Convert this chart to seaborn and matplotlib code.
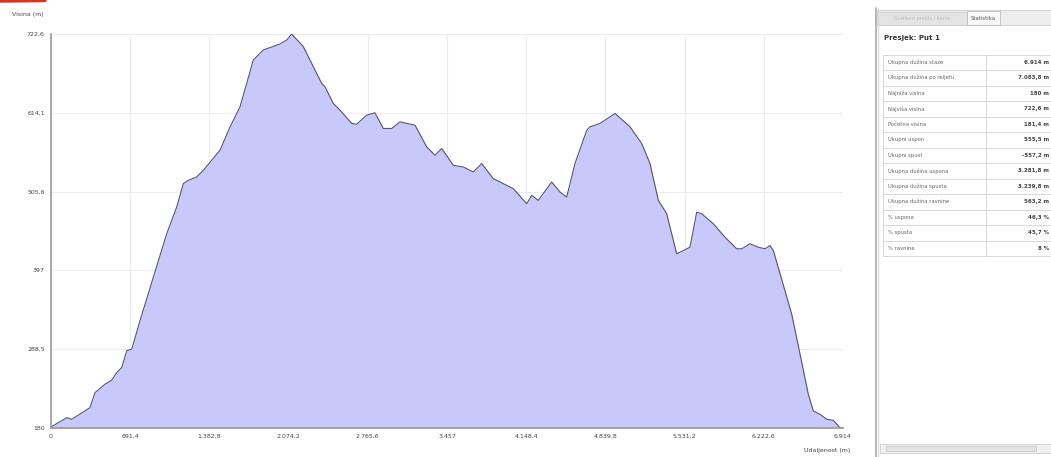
import numpy as np
import pandas as pd
import seaborn as sns
from matplotlib import pyplot as plt
from matplotlib.patches import Rectangle
from matplotlib.lines import Line2D

sns.set_style('whitegrid')
plt.rcParams['font.family'] = ['DejaVu Sans']

# profil staze: udaljenost (m) i visina (m), ocitano sa slike
udaljenost = [0, 137, 181, 340, 384, 471, 530, 574, 617, 661, 705, 777, 893, 1010, 1097,
              1155, 1199, 1272, 1330, 1475, 1563, 1650, 1766, 1853, 1999, 2058, 2101, 2203,
              2261, 2290, 2363, 2392, 2464, 2523, 2625, 2669, 2756, 2828, 2901, 2974, 3047,
              3178, 3280, 3352, 3411, 3512, 3599, 3687, 3760, 3861, 3949, 4036, 4153, 4197,
              4254, 4371, 4444, 4502, 4574, 4677, 4705, 4793, 4924, 5055, 5157, 5229, 5302,
              5375, 5404, 5462, 5520, 5578, 5637, 5680, 5782, 5884, 5986, 6030, 6102, 6175,
              6233, 6277, 6306, 6466, 6539, 6611, 6655, 6713, 6772, 6829, 6888, 6914]
visina = [181.4, 194.2, 192.0, 208.0, 228.7, 240.3, 245.9, 256.4, 263.3, 286.3, 288.7, 327.8,
          387.6, 447.5, 484.2, 516.5, 521.1, 525.7, 534.9, 562.5, 594.7, 622.3, 686.8, 700.6,
          708.9, 714.4, 722.6, 705.2, 686.8, 677.6, 654.6, 650.0, 627.0, 617.8, 599.4, 598.4,
          610.9, 614.1, 592.5, 592.5, 601.6, 597.0, 567.1, 555.6, 564.9, 541.8, 539.5, 532.6,
          544.2, 523.5, 516.5, 509.6, 488.9, 500.4, 493.5, 518.8, 504.9, 498.0, 544.2, 590.1,
          594.7, 599.4, 613.2, 594.7, 571.8, 544.2, 493.5, 475.1, 456.6, 419.9, 424.4, 429.0,
          477.3, 475.1, 461.3, 442.8, 426.8, 426.8, 433.7, 429.0, 426.8, 431.3, 424.4, 337.0,
          281.8, 226.5, 203.5, 198.9, 192.0, 190.6, 180.4, 180.5]

x_ticks = [0, 691.4, 1382.8, 2074.2, 2765.6, 3457, 4148.4, 4839.8, 5531.2, 6222.6, 6914]
x_labels = ['0', '691,4', '1.382,8', '2.074,2', '2.765,6', '3.457', '4.148,4', '4.839,8',
            '5.531,2', '6.222,6', '6.914']
y_ticks = [180, 288.5, 397, 505.6, 614.1, 722.6]
y_labels = ['180', '288,5', '397', '505,6', '614,1', '722,6']

stat_nazivi = ['Ukupna dužina staze', 'Ukupna dužina po reljefu', 'Najniža visina',
               'Najviša visina', 'Početna visina', 'Ukupni uspon', 'Ukupni spust',
               'Ukupna dužina uspona', 'Ukupna dužina spusta', 'Ukupna dužina ravnine',
               '% uspona', '% spusta', '% ravnine']
stat_vrijednosti = ['6.914 m', '7.083,8 m', '180 m', '722,6 m', '181,4 m', '555,5 m',
                    '-557,2 m', '3.281,8 m', '3.239,8 m', '563,2 m', '46,3 %', '45,7 %', '8 %']

profil = pd.DataFrame({'udaljenost': udaljenost, 'visina': visina})

W, H = 1051, 457
fig = plt.figure(figsize=(W / 100, H / 100), dpi=100)
fig.patch.set_facecolor('white')

# glavni graf
ax = fig.add_axes([51 / W, 1 - 428 / H, (843 - 51) / W, (428 - 34) / H])
ax.fill_between(profil['udaljenost'], profil['visina'], 180, color='#c8c8fa', lw=0)
sns.lineplot(data=profil, x='udaljenost', y='visina', ax=ax, color='#55556e', lw=0.8)
ax.set_xlim(0, 6914)
ax.set_ylim(180, 722.6)
ax.set_xticks(x_ticks)
ax.set_xticklabels(x_labels)
ax.set_yticks(y_ticks)
ax.set_yticklabels(y_labels)
ax.set_xlabel('')
ax.set_ylabel('')
ax.grid(True, color='#ececec', lw=0.8)
ax.tick_params(axis='both', labelsize=4.5, labelcolor='#444444', color='#777777',
               direction='inout', length=5, width=0.8, pad=2)
for s in ['top', 'right']:
    ax.spines[s].set_visible(False)
for s in ['left', 'bottom']:
    ax.spines[s].set_color('#999999')
    ax.spines[s].set_linewidth(1.2)

fig.text(12 / W, 1 - 16 / H, 'Visina (m)', fontsize=4.5, color='#444444')
fig.text(850 / W, 1 - 452 / H, 'Udaljenost (m)', fontsize=4.5, color='#444444', ha='right')

# crveni ukras u kutu
fig.add_artist(Line2D([0, 45 / W], [1 - 1 / H, 1 - 0.5 / H], color='#e03020', lw=2.5,
                      transform=fig.transFigure))

# desni panel sa statistikom
pan = fig.add_axes([874 / W, 0, (W - 874) / W, 1])
pan.set_xlim(0, W - 874)
pan.set_ylim(H, 0)
pan.axis('off')
pan.add_patch(Rectangle((0, 0), W - 874, H, color='white', zorder=0))
pan.add_line(Line2D([1.5, 1.5], [8, H], color='#aaaaaa', lw=1.2))
pan.add_line(Line2D([3.5, 3.5], [8, H], color='#dddddd', lw=1))
# kartice
pan.add_patch(Rectangle((3, 10), W - 874, 15, facecolor='#eeeeee', edgecolor='#cccccc', lw=0.6))
pan.add_patch(Rectangle((4, 12), 89, 13, facecolor='#e4e4e4', edgecolor='#cccccc', lw=0.6))
pan.text(48, 18.5, 'Grafikon profila / Karta', fontsize=3.5, color='#bbbbbb', ha='center', va='center')
pan.add_patch(Rectangle((93, 11), 33, 14, facecolor='#f8f8f8', edgecolor='#bbbbbb', lw=0.6))
pan.text(109.5, 18, 'Statistika', fontsize=3.8, color='#555555', ha='center', va='center')

pan.text(10, 38, 'Presjek: Put 1', fontsize=5, fontweight='bold', color='#333333', va='center')

top = 54.5
rh = 15.5
n = len(stat_nazivi)
for i, (naz, vr) in enumerate(zip(stat_nazivi, stat_vrijednosti)):
    y0 = top + i * rh
    pan.add_line(Line2D([9, W - 874], [y0, y0], color='#d8d8d8', lw=0.7))
    pan.text(14, y0 + rh / 2, naz, fontsize=3.8, color='#666666', va='center')
    pan.text(175, y0 + rh / 2, vr, fontsize=4, fontweight='bold', color='#444444',
             va='center', ha='right')
ybot = top + n * rh
pan.add_line(Line2D([9, W - 874], [ybot, ybot], color='#d8d8d8', lw=0.7))
pan.add_line(Line2D([9, 9], [top, ybot], color='#d8d8d8', lw=0.7))
pan.add_line(Line2D([112, 112], [top, ybot], color='#d8d8d8', lw=0.7))

# klizac na dnu
pan.add_patch(Rectangle((6, 444), W - 874 - 6, 9, facecolor='#f0f0f0', edgecolor='#cccccc', lw=0.6))
pan.add_patch(Rectangle((12, 446), 150, 5, facecolor='#e2e2e2', edgecolor='#c4c4c4', lw=0.5))

fig.savefig('out.png', dpi=100)
